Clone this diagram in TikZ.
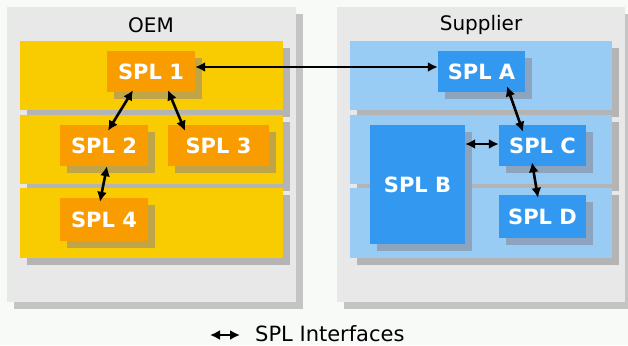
\documentclass[tikz,border=0pt]{standalone}
\usepackage{fontspec}
\setmainfont{DejaVu Sans}
\usetikzlibrary{arrows.meta,calc}
\definecolor{bgc}{HTML}{F7FAF7}
\definecolor{panelc}{HTML}{E8E8E8}
\definecolor{panelsh}{HTML}{C4C4C4}
\definecolor{bandsh}{HTML}{B4B4B4}
\definecolor{yel}{HTML}{F8CC00}
\definecolor{org}{HTML}{F89C00}
\definecolor{orgsh}{HTML}{C0A548}
\definecolor{lblue}{HTML}{99CCF5}
\definecolor{dblue}{HTML}{3399F0}
\definecolor{bluesh}{HTML}{8CA4BE}
\tikzset{
  splbox/.style={draw=none,inner sep=0pt,text=white,font=\fontsize{21}{25}\selectfont\bfseries},
  obox/.style={splbox,fill=org},
  bbox/.style={splbox,fill=dblue},
  iface/.style={line width=2.6pt,{Latex[length=10pt,width=10pt]}-{Latex[length=10pt,width=10pt]}},
  title/.style={font=\fontsize{20}{24}\selectfont,text=black,inner sep=0pt}
}
\begin{document}
\begin{tikzpicture}[x=1pt,y=-1pt]
\useasboundingbox (0,0) rectangle (628,345);
\fill[bgc] (0,0) rectangle (628,345);
% panels
\fill[panelsh] (14,14) rectangle (303,309);
\fill[panelc] (7,7) rectangle (296,302);
\fill[panelsh] (344,14) rectangle (632,309);
\fill[panelc] (337,7) rectangle (625,302);
\node[title] (oem) at (151,25) {OEM};
\node[title] (sup) at (481,25) {Supplier};
% OEM bands
\fill[bandsh] (27,48) rectangle (290,117);
\fill[yel] (20,41) rectangle (283,110);
\fill[bandsh] (27,122) rectangle (290,191);
\fill[yel] (20,115) rectangle (283,184);
\fill[bandsh] (27,195) rectangle (290,265);
\fill[yel] (20,188) rectangle (283,258);
% Supplier bands
\fill[bandsh] (357,48) rectangle (619,117);
\fill[lblue] (350,41) rectangle (612,110);
\fill[bandsh] (357,122) rectangle (619,191);
\fill[lblue] (350,115) rectangle (612,184);
\fill[bandsh] (357,195) rectangle (619,265);
\fill[lblue] (350,188) rectangle (612,258);
% box shadows
\fill[orgsh] (114,58) rectangle (202,99);
\fill[orgsh] (67,132) rectangle (155,173);
\fill[orgsh] (175,132) rectangle (276,173);
\fill[orgsh] (67,205) rectangle (155,248);
\fill[bluesh] (445,58) rectangle (532,99);
\fill[bluesh] (377,132) rectangle (472,251);
\fill[bluesh] (506,132) rectangle (593,173);
\fill[bluesh] (506,202) rectangle (593,245);
% boxes
\node[obox,minimum width=88pt,minimum height=41pt] (s1) at (151,71.5) {SPL 1};
\node[obox,minimum width=88pt,minimum height=41pt] (s2) at (104,145.5) {SPL 2};
\node[obox,minimum width=101pt,minimum height=41pt] (s3) at (218.5,145.5) {SPL 3};
\node[obox,minimum width=88pt,minimum height=43pt] (s4) at (104,219.5) {SPL 4};
\node[bbox,minimum width=87pt,minimum height=41pt] (sa) at (481.5,71.5) {SPL A};
\node[bbox,minimum width=95pt,minimum height=119pt] (sb) at (417.5,184.5) {SPL B};
\node[bbox,minimum width=87pt,minimum height=41pt] (sc) at (542.5,145.5) {SPL C};
\node[bbox,minimum width=87pt,minimum height=43pt] (sd) at (542.5,216.5) {SPL D};
% interfaces
\draw[iface] ([yshift=4.5pt]s1.east) -- ([yshift=4.5pt]sa.west);
\draw[iface] ([xshift=-18pt,yshift=2pt]s1.south) -- ([xshift=4pt,yshift=-6pt]s2.north);
\draw[iface] ([xshift=17pt,yshift=2pt]s1.south) -- ([xshift=-33.5pt,yshift=-6pt]s3.north);
\draw[iface] ([xshift=3pt]s2.south) -- ([xshift=-4pt,yshift=-4pt]s4.north);
\draw[iface] ([xshift=25.5pt,yshift=6pt]sa.south) -- ([xshift=-19.5pt,yshift=-7pt]sc.north);
\draw[iface] ([yshift=1.5pt]sc.west -| sb.east) -- ([yshift=1.5pt]sc.west);
\draw[iface] ([xshift=-10.5pt,yshift=4pt]sc.south) -- ([xshift=-4.5pt,yshift=-3pt]sd.north);
% legend
\coordinate (l1) at (210,335);
\coordinate (l2) at (240,335);
\draw[iface] (l1) -- (l2);
\node[font=\fontsize{21}{25}\selectfont,inner sep=0pt,anchor=base west] (leg) at (255,341) {SPL Interfaces};
\end{tikzpicture}
\end{document}
